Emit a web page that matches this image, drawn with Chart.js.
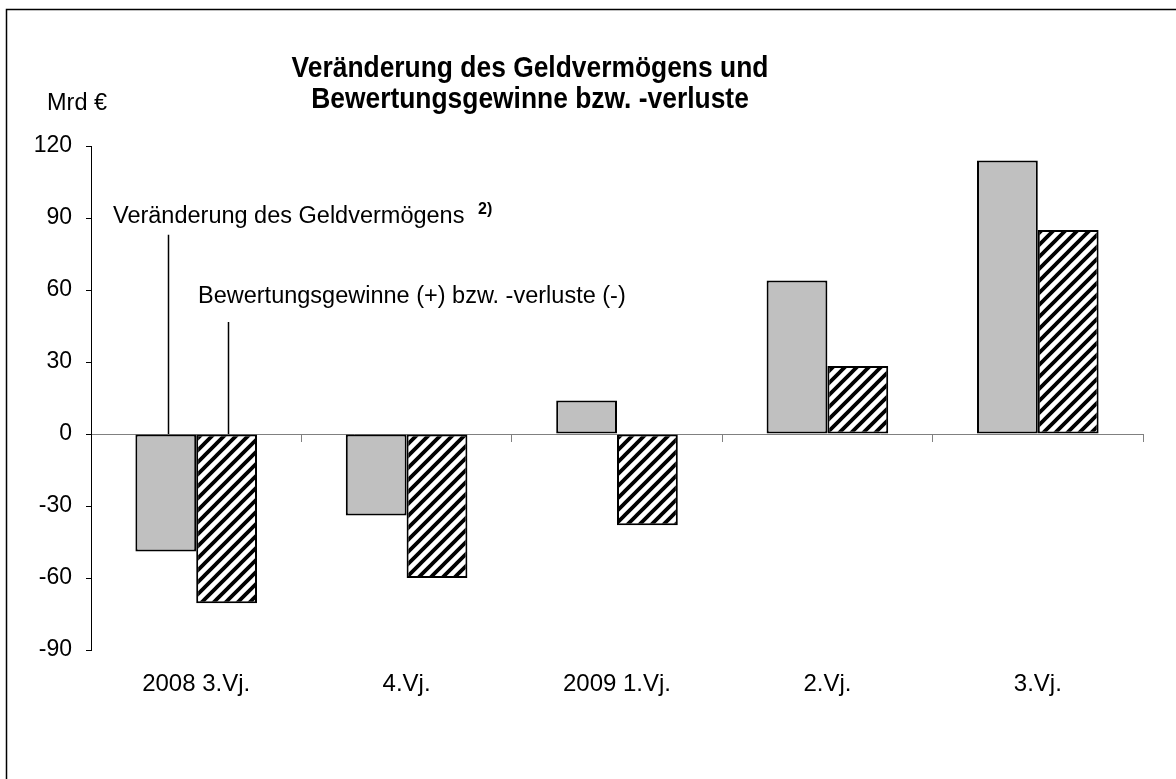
<!DOCTYPE html>
<html>
<head>
<meta charset="utf-8">
<script src="https://cdn.jsdelivr.net/npm/chart.js@4.4.0/dist/chart.umd.min.js"></script>
<style>
  html, body { margin: 0; padding: 0; background: #fff; }
  #wrap { position: relative; width: 1176px; height: 779px; }
</style>
</head>
<body>
<div id="wrap"><canvas id="grafico" width="1176" height="779"></canvas></div>
<script>
// Daten
let quartale = ['2008 3.Vj.', '4.Vj.', '2009 1.Vj.', '2.Vj.', '3.Vj.'];
let geldvermoegen = [-49, -34, 14, 64, 114];
let bewertung = [-70.5, -60, -38, 28.3, 85];
let yTicks = [-90, -60, -30, 0, 30, 60, 90, 120];

const FONT = "'Liberation Sans', Arial, sans-serif";

// Schraffur fuer die zweite Reihe
function schraffur() {
    var size = 12;
    var c = document.createElement('canvas');
    c.width = size; c.height = size;
    var g = c.getContext('2d');
    g.fillStyle = '#fff';
    g.fillRect(0, 0, size, size);
    g.strokeStyle = '#000';
    g.lineWidth = 3.8;
    g.beginPath();
    g.moveTo(-2, size + 2); g.lineTo(size + 2, -2);
    g.moveTo(-2, 2); g.lineTo(2, -2);
    g.moveTo(size - 2, size + 2); g.lineTo(size + 2, size - 2);
    g.stroke();
    return g.createPattern(c, 'repeat');
}

// Rahmen, Titel, Beschriftungen
const beschriftung = {
    id: 'beschriftung',
    beforeDraw: function (chart) {
        var ctx = chart.ctx;
        ctx.save();
        ctx.fillStyle = '#fff';
        ctx.fillRect(0, 0, chart.width, chart.height);
        ctx.strokeStyle = '#000';
        ctx.lineWidth = 1.5;
        ctx.beginPath();
        ctx.moveTo(6.5, chart.height + 5);
        ctx.lineTo(6.5, 9.5);
        ctx.lineTo(chart.width + 5, 9.5);
        ctx.stroke();
        ctx.restore();
    },
    afterDatasetsDraw: function (chart) {
        var ctx = chart.ctx;
        var y = chart.scales.y;
        var bar0 = chart.getDatasetMeta(0).data[0];
        var bar1 = chart.getDatasetMeta(1).data[0];
        ctx.save();
        ctx.fillStyle = '#000';
        ctx.textBaseline = 'alphabetic';

        // Titel (leicht schmal wie im Original)
        ctx.save();
        ctx.translate(530, 0);
        ctx.scale(0.88, 1);
        ctx.font = 'bold 30px ' + FONT;
        ctx.textAlign = 'center';
        ctx.fillText('Veränderung des Geldvermögens und', 0, 77);
        ctx.fillText('Bewertungsgewinne bzw. -verluste', 0, 108);
        ctx.restore();

        ctx.font = '23.5px ' + FONT;
        ctx.textAlign = 'left';
        ctx.fillText('Mrd €', 47, 110);

        // Hinweislinien
        var x0 = Math.round(bar0.x + 2) + 0.5;
        var x1 = Math.round(bar1.x + 1.5) + 0.5;
        ctx.strokeStyle = '#000';
        ctx.lineWidth = 1.5;
        ctx.beginPath();
        ctx.moveTo(x0, y.getPixelForValue(83));
        ctx.lineTo(x0, y.getPixelForValue(0));
        ctx.moveTo(x1, y.getPixelForValue(46.7));
        ctx.lineTo(x1, y.getPixelForValue(0));
        ctx.stroke();

        ctx.fillText('Veränderung des Geldvermögens', 113, y.getPixelForValue(87.9));
        ctx.fillText('Bewertungsgewinne (+) bzw. -verluste (-)', 198, y.getPixelForValue(54.6));
        ctx.font = 'bold 16px ' + FONT;
        ctx.fillText('2)', 478, y.getPixelForValue(91.5));
        ctx.restore();
    }
};

var ctx = document.getElementById('grafico');
var myChart = new Chart(ctx, {
    type: 'bar',
    data: {
        labels: quartale,
        datasets: [{
            label: 'Veränderung des Geldvermögens',
            data: geldvermoegen,
            backgroundColor: '#c0c0c0',
            borderColor: '#000',
            borderWidth: 2,
            borderSkipped: false,
            xAxisID: 'x',
            yAxisID: 'y'
        }, {
            label: 'Bewertungsgewinne (+) bzw. -verluste (-)',
            data: bewertung,
            backgroundColor: schraffur(),
            borderColor: '#000',
            borderWidth: 2,
            borderSkipped: false,
            xAxisID: 'x',
            yAxisID: 'y'
        }]
    },
    options: {
        responsive: false,
        animation: false,
        events: [],
        devicePixelRatio: 1,
        layout: { padding: { top: 146, right: 33, bottom: 0, left: 0 } },
        datasets: { bar: { categoryPercentage: 0.578, barPercentage: 1.0 } },
        plugins: {
            legend: { display: false },
            title: { display: false },
            tooltip: { enabled: false }
        },
        scales: {
            x: {
                type: 'category',
                position: 'bottom',
                offset: true,
                grid: { display: false, drawTicks: false },
                border: { display: false },
                ticks: {
                    color: '#000',
                    font: { family: FONT, size: 24 },
                    padding: 20,
                    maxRotation: 0,
                    autoSkip: false
                },
                afterFit: function (scale) { scale.height = 129; }
            },
            x2: {
                type: 'category',
                labels: quartale,
                position: { y: 0 },
                offset: true,
                grid: {
                    offset: true,
                    drawOnChartArea: false,
                    drawTicks: true,
                    tickLength: 7,
                    tickColor: '#808080',
                    tickWidth: 1
                },
                border: { display: true, color: '#808080', width: 1 },
                ticks: { display: false },
                afterFit: function (scale) { scale.height = 0; }
            },
            y: {
                type: 'linear',
                position: 'left',
                min: -90,
                max: 120,
                afterBuildTicks: function (scale) {
                    scale.ticks = yTicks.map(function (v) { return { value: v }; });
                },
                grid: {
                    drawOnChartArea: false,
                    drawTicks: true,
                    tickLength: 5,
                    tickColor: '#000',
                    tickWidth: 1
                },
                border: { display: true, color: '#000', width: 1 },
                ticks: {
                    color: '#000',
                    font: { family: FONT, size: 23 },
                    padding: 14
                },
                afterFit: function (scale) { scale.width = 91; }
            }
        }
    },
    plugins: [beschriftung]
});
</script>
</body>
</html>
